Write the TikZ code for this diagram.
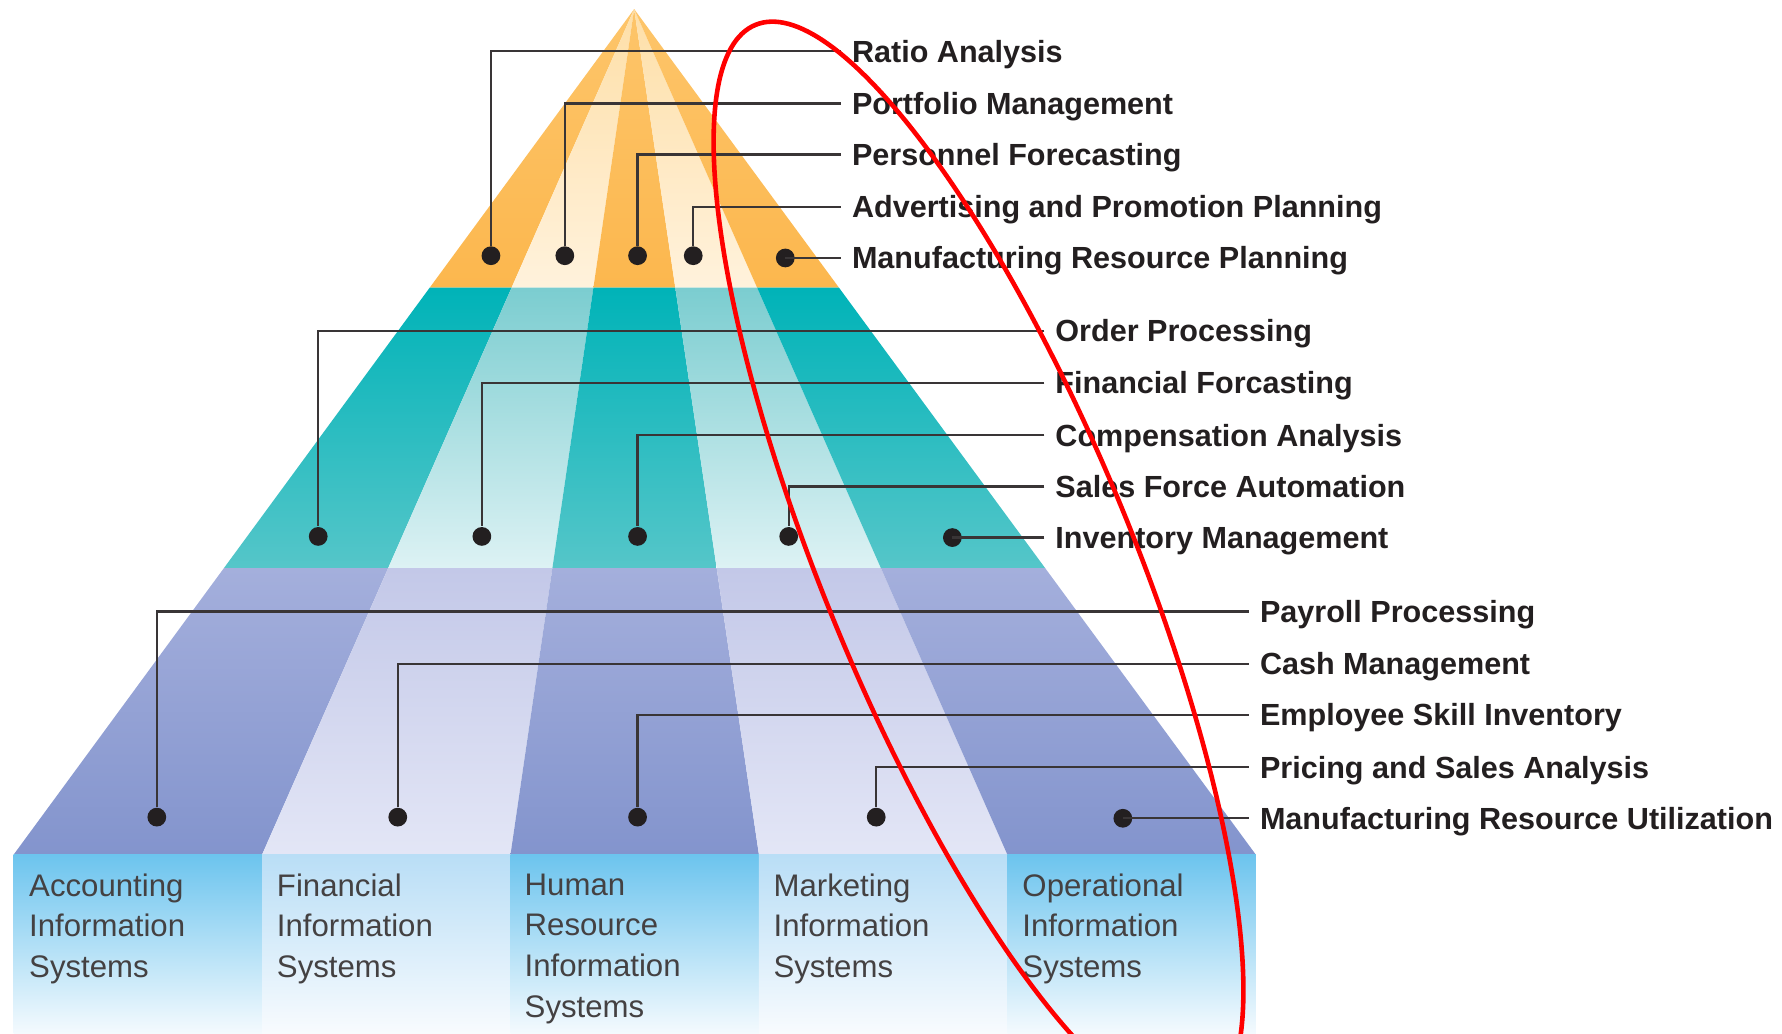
\documentclass[tikz,border=0pt]{standalone}
\usepackage{fontspec}
\setmainfont{Liberation Sans}
\usetikzlibrary{calc}

\definecolor{orangedarktop}{HTML}{FDC56A}
\definecolor{orangedarkbot}{HTML}{FCB74E}
\definecolor{orangelighttop}{HTML}{FEDFA8}
\definecolor{orangelightbot}{HTML}{FFF2DC}
\definecolor{tealdarktop}{HTML}{00B3B8}
\definecolor{tealdarkbot}{HTML}{55C6C9}
\definecolor{teallighttop}{HTML}{7BCDD0}
\definecolor{teallightbot}{HTML}{DDF2F4}
\definecolor{purpledarktop}{HTML}{A4AFDC}
\definecolor{purpledarkbot}{HTML}{8394CD}
\definecolor{purplelighttop}{HTML}{C3C8E8}
\definecolor{purplelightbot}{HTML}{E3E6F6}
\definecolor{basedarktop}{HTML}{6CC4EE}
\definecolor{basedarkbot}{HTML}{F4FAFE}
\definecolor{baselighttop}{HTML}{B9DEF6}
\definecolor{baselightbot}{HTML}{F8FBFE}
\definecolor{ink}{HTML}{231F20}

\begin{document}
\begin{tikzpicture}[x=0.01cm, y=-0.01cm,
    leader/.style={line width=0.6pt, color=ink!90},
    blob/.style={circle, fill=ink, inner sep=0pt, minimum size=0.165cm},
    itemtext/.style={anchor=west, inner xsep=0.09cm, inner ysep=0pt,
      text height=5.5pt, text depth=0pt,
      font=\fontsize{7.65}{9}\selectfont\bfseries, text=ink},
    systext/.style={anchor=north west, align=left, inner sep=0pt,
      font=\fontsize{7.8}{10.2}\selectfont, text=ink!85}]
    \useasboundingbox (0,0) rectangle (1568,909);
    \clip (0,0) rectangle (1568,909);

    \coordinate (apex) at (558,8);
    \foreach \i in {0,...,5} {
        \coordinate (b\i) at ({12+\i*218.6},752);
    }

    % fan stripes, band by band
    \foreach \i in {1,...,5} {
        \pgfmathtruncatemacro{\j}{\i-1}
        \pgfmathsetmacro{\tone}{(mod(\i,2)==1 ? "dark" : "light")}
        \shade[top color=orange\tone top, bottom color=orange\tone bot]
            (apex) -- ($(apex)!0.3293!(b\j)$) -- ($(apex)!0.3293!(b\i)$) -- cycle;
        \shade[top color=teal\tone top, bottom color=teal\tone bot]
            ($(apex)!0.3293!(b\j)$) -- ($(apex)!0.6613!(b\j)$)
            -- ($(apex)!0.6613!(b\i)$) -- ($(apex)!0.3293!(b\i)$) -- cycle;
        \shade[top color=purple\tone top, bottom color=purple\tone bot]
            ($(apex)!0.6613!(b\j)$) -- (b\j) -- (b\i) -- ($(apex)!0.6613!(b\i)$) -- cycle;
        \shade[top color=base\tone top, bottom color=base\tone bot]
            (b\j) rectangle ($(b\i)+(0,157)$);
    }

    % system names
    \node[systext] (acc) at (25,768) {Accounting\\Information\\Systems};
    \node[systext] (fin) at (243,768) {Financial\\Information\\Systems};
    \node[systext] (hr)  at (461,768) {Human\\Resource\\Information\\Systems};
    \node[systext] (mkt) at (680,768) {Marketing\\Information\\Systems};
    \node[systext] (ops) at (899,768) {Operational\\Information\\Systems};

    % top band
    \foreach \n/\dx/\dy/\ly/\txt in {1/432/225/45/Ratio Analysis,
        2/497/225/91/Portfolio Management, 3/561/225/136/Personnel Forecasting,
        4/610/225/182/Advertising and Promotion Planning,
        5/691/227/227/Manufacturing Resource Planning} {
        \node[blob] (top\n) at (\dx,\dy) {};
        \node[itemtext] (top\n txt) at (740,\ly) {\txt};
        \draw[leader] (top\n txt.west) -| (top\n);
    }

    % middle band
    \foreach \n/\dx/\dy/\ly/\txt in {1/280/472/291/Order Processing,
        2/424/472/337/Financial Forcasting, 3/561/472/383/Compensation Analysis,
        4/694/472/428/Sales Force Automation,
        5/838/473/473/Inventory Management} {
        \node[blob] (mid\n) at (\dx,\dy) {};
        \node[itemtext] (mid\n txt) at (919,\ly) {\txt};
        \draw[leader] (mid\n txt.west) -| (mid\n);
    }

    % lower band
    \foreach \n/\dx/\dy/\ly/\txt in {1/138/719/538/Payroll Processing,
        2/350/719/584/Cash Management, 3/561/719/629/Employee Skill Inventory,
        4/771/719/675/Pricing and Sales Analysis,
        5/988/720/720/Manufacturing Resource Utilization} {
        \node[blob] (low\n) at (\dx,\dy) {};
        \node[itemtext] (low\n txt) at (1099,\ly) {\txt};
        \draw[leader] (low\n txt.west) -| (low\n);
    }

    % red ellipse
    \draw[red, line width=1.15pt, rotate around={22.4:(861,498)}]
        (861,498) ellipse [x radius=136, y radius=515];
\end{tikzpicture}
\end{document}
